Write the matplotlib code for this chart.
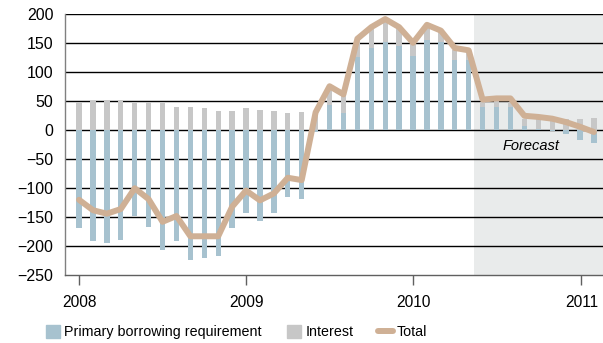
import numpy as np
import matplotlib
matplotlib.use("Agg")
import matplotlib.pyplot as plt
from matplotlib.patches import Patch
from matplotlib.lines import Line2D

plt.rcParams['font.family'] = ['Liberation Sans', 'DejaVu Sans']

# monthly data, Jan 2008 - Feb 2011 (SEK billion)
primary = [-168, -191, -194, -189, -148, -167, -206, -191, -224, -220, -217, -168,
           -143, -156, -143, -115, -118, -3, 43, 29, 126, 142, 152, 145,
           129, 155, 152, 122, 121, 40, 41, 40, 7, 3, -1, -7, -17, -22]
interest = [49, 51, 52, 52, 47, 49, 47, 41, 40, 38, 33, 33,
            38, 35, 33, 29, 31, 32, 26, 32, 32, 36, 40, 33,
            21, 27, 20, 17, 17, 9, 9, 9, 13, 17, 17, 19, 19, 21]
total = [-120, -138, -144, -136, -100, -119, -158, -148, -183, -183, -183, -132,
         -104, -121, -109, -82, -86, 31, 76, 62, 158, 178, 192, 178,
         151, 182, 172, 142, 138, 53, 55, 55, 25, 23, 20, 14, 6, -3]
year_labels = ['2008', '2009', '2010', '2011']
forecast_start = 28.4

BLUE = '#a7c2cf'
GREY = '#c7c7c7'
TAN = '#cfb095'
SHADE = '#e9ebeb'

x = np.arange(len(primary))
primary = np.array(primary, dtype=float)
interest = np.array(interest, dtype=float)
interest_base = np.where(primary > 0, primary, 0)

fig = plt.figure(figsize=(6.03, 3.43), dpi=100)
ax = fig.add_axes([0.108, 0.198, 0.892, 0.76])

ax.axvspan(forecast_start, 40, color=SHADE, zorder=0, lw=0)
for v in range(-200, 201, 50):
    ax.axhline(v, color='black', lw=1.0, zorder=1)

w = 0.38
ax.bar(x, primary, width=w, color=BLUE, zorder=2, lw=0)
ax.bar(x, interest, width=w, bottom=interest_base, color=GREY, zorder=2, lw=0)
ax.plot(x, total, color=TAN, lw=4.3, solid_capstyle='round', solid_joinstyle='round', zorder=3)

ax.text(32.5, -27, 'Forecast', style='italic', fontsize=10.5, ha='center', va='center', zorder=4)

ax.set_xlim(-1.0, 37.65)
ax.set_ylim(-250, 200)
ax.set_yticks(range(-250, 201, 50))
ax.set_xticks([0.0, 12.0, 24.0, 36.1])
ax.set_xticklabels(year_labels)

for s in ['top', 'right']:
    ax.spines[s].set_visible(False)
ax.spines['left'].set_color('#808080')
ax.spines['bottom'].set_color('#606060')
ax.spines['left'].set_linewidth(1.0)
ax.spines['bottom'].set_linewidth(1.0)
ax.tick_params(axis='y', length=0, pad=8.5, labelsize=11.5)
ax.tick_params(axis='x', length=7, width=1.0, color='#606060', pad=7, labelsize=11.2)

handles = [Patch(color=BLUE), Patch(color=GREY), Line2D([0], [0], color=TAN, lw=4.3, solid_capstyle='round')]
labels = ['Primary borrowing requirement', 'Interest', 'Total']
fig.legend(handles, labels, loc='center', bbox_to_anchor=(0.392, 0.032), ncol=3, frameon=False,
           fontsize=10.3, handlelength=1.0, handleheight=1.0, handletextpad=0.3, columnspacing=1.75)

fig.savefig('out.png', dpi=100)
